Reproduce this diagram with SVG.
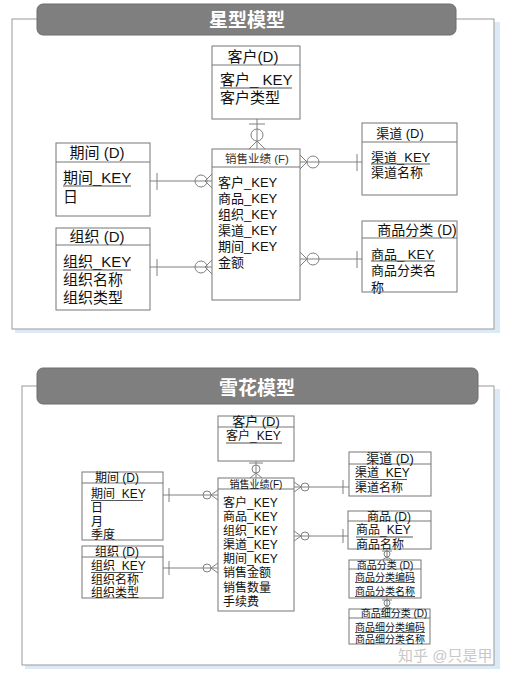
<svg xmlns="http://www.w3.org/2000/svg" width="507" height="677" viewBox="0 0 507 677">
<style>
text{font-family:"Liberation Sans","Noto Sans CJK SC",sans-serif;fill:#111}
.box{fill:#fff;stroke:#777;stroke-width:1}
.div{stroke:#777;stroke-width:1}
.ul{stroke:#555;stroke-width:1}
.frame{fill:#fff;stroke:#999;stroke-width:1}
.shadow{fill:#dceaf7}
.banner{fill:#7f7f7f;stroke:#6f6f6f;stroke-width:1}
.title{font-size:19px;font-weight:bold;fill:#fff;text-anchor:middle}
.c{stroke:#808080;stroke-width:1;fill:none}
.s15{font-size:15px}.s14{font-size:14px}.s13{font-size:13px}.s12{font-size:12px}.s11{font-size:11.5px}.s10{font-size:10px}
.mid{text-anchor:middle}
</style>

<!-- star panel -->
<g id="panel-star">
<rect class="shadow" x="494" y="22" width="6" height="311"/>
<rect class="shadow" x="15" y="329" width="485" height="4"/>
<rect class="frame" x="12" y="19" width="482" height="310"/>
<rect class="banner" x="37" y="4" width="419" height="31" rx="6"/>
<text class="title" x="247" y="26.5">星型模型</text>
</g>

<!-- snowflake panel -->
<g id="panel-snow">
<rect class="shadow" x="494" y="389" width="6" height="280"/>
<rect class="shadow" x="25" y="665" width="475" height="4"/>
<rect class="frame" x="22" y="386" width="472" height="279"/>
<rect class="banner" x="37" y="368" width="441" height="36" rx="6"/>
<text class="title" x="257" y="394.5">雪花模型</text>
</g>

<!-- star connectors -->
<g id="star-connectors">
<line class="c" x1="257" y1="119" x2="257" y2="149"/>
<line class="c" x1="249" y1="124" x2="265" y2="124"/>
<circle class="c" cx="257" cy="135" r="6" fill="#fff"/>
<path class="c" d="M249,149 L257,141 L265,149"/>

<line class="c" x1="150" y1="181" x2="212" y2="181"/>
<line class="c" x1="157" y1="173" x2="157" y2="190"/>
<circle class="c" cx="201" cy="181" r="6" fill="#fff"/>
<path class="c" d="M212,174 L205,181 L212,188"/>

<line class="c" x1="150" y1="267" x2="212" y2="267"/>
<line class="c" x1="157" y1="259" x2="157" y2="276"/>
<circle class="c" cx="201" cy="267" r="6" fill="#fff"/>
<path class="c" d="M212,260 L205,267 L212,274"/>

<line class="c" x1="300" y1="162" x2="362" y2="162"/>
<line class="c" x1="357" y1="154" x2="357" y2="171"/>
<circle class="c" cx="313" cy="162" r="6" fill="#fff"/>
<path class="c" d="M300,155 L307,162 L300,169"/>

<line class="c" x1="300" y1="259" x2="362" y2="259"/>
<line class="c" x1="357" y1="251" x2="357" y2="268"/>
<circle class="c" cx="313" cy="259" r="6" fill="#fff"/>
<path class="c" d="M300,252 L307,259 L300,266"/>
</g>

<!-- star nodes -->
<g id="star-customer">
<rect class="box" x="212" y="46" width="88" height="73"/>
<line class="div" x1="212" y1="65" x2="300" y2="65"/>
<text class="s15 mid" x="253" y="62">客户(D)</text>
<text class="s15" x="220" y="85">客户_ KEY</text>
<line class="ul" x1="220" y1="88" x2="292" y2="88"/>
<text class="s15" x="220" y="103">客户类型</text>
</g>

<g id="star-fact">
<rect class="box" x="212" y="149" width="88" height="151"/>
<line class="div" x1="212" y1="167" x2="300" y2="167"/>
<text class="s11 mid" x="257" y="163" style="fill:#333">销售业绩 (F)</text>
<text class="s13" x="218" y="186.5">客户_KEY</text>
<text class="s13" x="218" y="202.5">商品_KEY</text>
<text class="s13" x="218" y="218.5">组织_KEY</text>
<text class="s13" x="218" y="234.5">渠道_KEY</text>
<text class="s13" x="218" y="250.5">期间_KEY</text>
<text class="s13" x="218" y="266.5">金额</text>
</g>

<g id="star-period">
<rect class="box" x="56" y="143" width="94" height="73"/>
<line class="div" x1="56" y1="162" x2="150" y2="162"/>
<text class="s15 mid" x="97" y="158">期间 (D)</text>
<text class="s15" x="63" y="183">期间_KEY</text>
<line class="ul" x1="63" y1="186" x2="131" y2="186"/>
<text class="s15" x="63" y="202">日</text>
</g>

<g id="star-org">
<rect class="box" x="56" y="228" width="94" height="82"/>
<line class="div" x1="56" y1="245" x2="150" y2="245"/>
<text class="s15 mid" x="97" y="242">组织 (D)</text>
<text class="s15" x="63" y="267">组织_KEY</text>
<line class="ul" x1="63" y1="270" x2="131" y2="270"/>
<text class="s15" x="63" y="285">组织名称</text>
<text class="s15" x="63" y="303">组织类型</text>
</g>

<g id="star-channel">
<rect class="box" x="362" y="123" width="95" height="72"/>
<line class="div" x1="362" y1="142" x2="457" y2="142"/>
<text class="s13 mid" x="400" y="138">渠道 (D)</text>
<text class="s13" x="371" y="161.5">渠道_KEY</text>
<line class="ul" x1="371" y1="164" x2="430" y2="164"/>
<text class="s13" x="371" y="176.5">渠道名称</text>
</g>

<g id="star-category">
<rect class="box" x="362" y="221" width="95" height="71"/>
<line class="div" x1="362" y1="238" x2="457" y2="238"/>
<text class="s14 mid" x="417" y="235">商品分类 (D)</text>
<text class="s13" x="371" y="258.5">商品_ KEY</text>
<line class="ul" x1="371" y1="261" x2="435" y2="261"/>
<text class="s13" x="371" y="274.5">商品分类名</text>
<text class="s13" x="371" y="291.5">称</text>
</g>

<!-- snowflake connectors -->
<g id="snow-connectors">
<line class="c" x1="256" y1="461" x2="256" y2="478"/>
<line class="c" x1="249" y1="463" x2="263" y2="463"/>
<circle class="c" cx="256" cy="469" r="4" fill="#fff"/>
<path class="c" d="M250,478 L256,473 L262,478"/>

<line class="c" x1="163" y1="495" x2="218" y2="495"/>
<line class="c" x1="169" y1="488" x2="169" y2="502"/>
<circle class="c" cx="207" cy="495" r="4" fill="#fff"/>
<path class="c" d="M218,490 L211,495 L218,500"/>

<line class="c" x1="163" y1="568" x2="218" y2="568"/>
<line class="c" x1="169" y1="561" x2="169" y2="575"/>
<circle class="c" cx="207" cy="568" r="4" fill="#fff"/>
<path class="c" d="M218,563 L211,568 L218,573"/>

<line class="c" x1="294" y1="487" x2="349" y2="487"/>
<line class="c" x1="343" y1="480" x2="343" y2="494"/>
<circle class="c" cx="305" cy="487" r="4" fill="#fff"/>
<path class="c" d="M294,482 L301,487 L294,492"/>

<line class="c" x1="294" y1="536" x2="348" y2="536"/>
<line class="c" x1="343" y1="529" x2="343" y2="543"/>
<circle class="c" cx="305" cy="536" r="4" fill="#fff"/>
<path class="c" d="M294,531 L301,536 L294,541"/>

<line class="c" x1="387" y1="549" x2="387" y2="560"/>
<line class="c" x1="382" y1="551" x2="392" y2="551"/>
<circle class="c" cx="387" cy="554" r="3" fill="#fff"/>
<path class="c" d="M382,560 L387,557 L392,560"/>

<line class="c" x1="387" y1="598" x2="387" y2="609"/>
<line class="c" x1="382" y1="600" x2="392" y2="600"/>
<circle class="c" cx="387" cy="603" r="3" fill="#fff"/>
<path class="c" d="M382,609 L387,606 L392,609"/>
</g>

<!-- snowflake nodes -->
<g id="snow-customer">
<rect class="box" x="218" y="416" width="76" height="45"/>
<line class="div" x1="218" y1="427" x2="294" y2="427"/>
<text class="s13 mid" x="256" y="425.5">客户 (D)</text>
<text class="s12" x="226" y="440">客户_KEY</text>
<line class="ul" x1="226" y1="443" x2="282" y2="443"/>
</g>

<g id="snow-fact">
<rect class="box" x="218" y="478" width="76" height="133"/>
<line class="div" x1="218" y1="489" x2="294" y2="489"/>
<text class="s10 mid" x="256" y="487.5">销售业绩(F)</text>
<text class="s12" x="223" y="507">客户_KEY</text>
<text class="s12" x="223" y="521">商品_KEY</text>
<text class="s12" x="223" y="535">组织_KEY</text>
<text class="s12" x="223" y="549">渠道_KEY</text>
<text class="s12" x="223" y="563">期间_KEY</text>
<text class="s12" x="223" y="577">销售金额</text>
<text class="s12" x="223" y="592">销售数量</text>
<text class="s12" x="223" y="606">手续费</text>
</g>

<g id="snow-period">
<rect class="box" x="82" y="472" width="81" height="68"/>
<line class="div" x1="82" y1="483" x2="163" y2="483"/>
<text class="s12 mid" x="117" y="482">期间 (D)</text>
<text class="s12" x="91" y="498">期间_KEY</text>
<line class="ul" x1="91" y1="500.5" x2="143" y2="500.5"/>
<text class="s12" x="91" y="512">日</text>
<text class="s12" x="91" y="526">月</text>
<text class="s12" x="91" y="539">季度</text>
</g>

<g id="snow-org">
<rect class="box" x="82" y="546" width="81" height="52"/>
<line class="div" x1="82" y1="557" x2="163" y2="557"/>
<text class="s12 mid" x="117" y="555.5">组织 (D)</text>
<text class="s12" x="91" y="570">组织_KEY</text>
<line class="ul" x1="91" y1="572.5" x2="143" y2="572.5"/>
<text class="s12" x="91" y="584">组织名称</text>
<text class="s12" x="91" y="597">组织类型</text>
</g>

<g id="snow-channel">
<rect class="box" x="349" y="452" width="82" height="44"/>
<line class="div" x1="349" y1="464" x2="431" y2="464"/>
<text class="s13 mid" x="390" y="462.5">渠道 (D)</text>
<text class="s12" x="355" y="477">渠道_KEY</text>
<line class="ul" x1="355" y1="479.5" x2="407" y2="479.5"/>
<text class="s12" x="355" y="492">渠道名称</text>
</g>

<g id="snow-product">
<rect class="box" x="348" y="511" width="83" height="38"/>
<line class="div" x1="348" y1="521" x2="431" y2="521"/>
<text class="s12 mid" x="389" y="520.5">商品 (D)</text>
<text class="s12" x="356" y="534">商品_KEY</text>
<line class="ul" x1="356" y1="537" x2="413" y2="537"/>
<text class="s12" x="356" y="548.5">商品名称</text>
</g>

<g id="snow-category">
<rect class="box" x="349" y="560" width="72" height="38"/>
<line class="div" x1="349" y1="569" x2="421" y2="569"/>
<text class="s10 mid" x="385" y="568.5">商品分类 (D)</text>
<text class="s10" x="355" y="580.5">商品分类编码</text>
<line class="ul" x1="355" y1="582.5" x2="415" y2="582.5"/>
<text class="s10" x="355" y="594.5">商品分类名称</text>
<line class="ul" x1="355" y1="596.5" x2="415" y2="596.5"/>
</g>

<g id="snow-subcategory">
<rect class="box" x="349" y="609" width="81" height="35"/>
<line class="div" x1="349" y1="618" x2="430" y2="618"/>
<text class="s10 mid" x="394" y="616.5">商品细分类 (D)</text>
<text class="s10" x="355" y="630.5">商品细分类编码</text>
<line class="ul" x1="355" y1="632.5" x2="425" y2="632.5"/>
<text class="s10" x="355" y="642.5">商品细分类名称</text>
</g>

<text x="398" y="661" style="font-size:15px;fill:#c8c8c8">知乎 @只是甲</text>
</svg>
